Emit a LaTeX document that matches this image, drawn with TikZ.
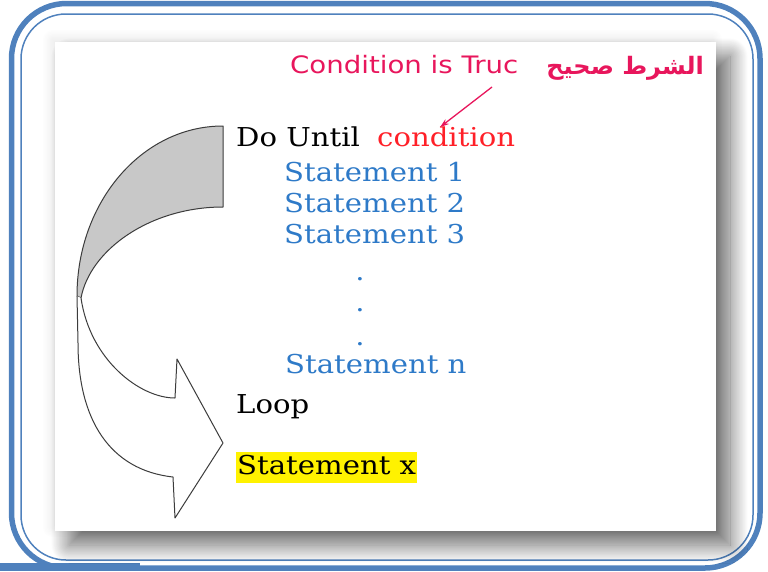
\documentclass[tikz,border=0pt]{standalone}
\usepackage{fontspec}
\usetikzlibrary{arrows.meta,shadows.blur}
\TeXXeTstate=1
\newfontfamily\codefont[FakeStretch=1.12]{DejaVu Serif}
\newfontfamily\labelfont[FakeStretch=1.15]{DejaVu Sans}
\newfontfamily\arabicfont[Script=Arabic]{DejaVu Sans}
\definecolor{framecol}{RGB}{79,129,189}
\definecolor{stmtblue}{RGB}{46,122,200}
\definecolor{truepink}{RGB}{232,22,92}
\definecolor{condred}{RGB}{255,32,40}
\definecolor{bandgray}{RGB}{200,200,200}
\definecolor{edgegray}{RGB}{60,60,60}
\tikzset{
  code/.style={anchor=base west, inner sep=0pt, font=\codefont\fontsize{26}{30}\selectfont},
  stmt/.style={code, text=stmtblue},
  dotline/.style={anchor=base, inner sep=0pt, text=stmtblue, font=\codefont\fontsize{26}{30}\selectfont},
  ribbon/.style={draw=edgegray, line width=1pt, line join=round}
}
\begin{document}
\begin{tikzpicture}[x=1pt,y=-1pt]
    \useasboundingbox (0,0) rectangle (768,571);

    % Blue double frame
    \draw[framecol, line width=5.5pt, rounded corners=55pt] (11.5,3.5) rectangle (760,568);
    \draw[framecol, line width=1.5pt, rounded corners=45pt] (21,14) rectangle (753,560);
    \fill[framecol] (0,563) rectangle (140,571);

    % White sheet with its shadow
    \fill[white, blur shadow={shadow xshift=-3pt, shadow yshift=3pt, shadow blur radius=10pt, shadow blur steps=20, shadow opacity=10}]
        (55,42) rectangle (716,531);
    \fill[white, blur shadow={shadow xshift=14pt, shadow yshift=-14pt, shadow blur radius=18pt, shadow blur steps=30, shadow opacity=60}]
        (55,42) rectangle (716,531);

    % Gray back of the curved arrow
    \filldraw[ribbon, fill=bandgray] (223,126) -- (223,207)
        .. controls (150,207) and (90,250) .. (81,298)
        -- (77,296) .. controls (77,202) and (142,126) .. (223,126) -- cycle;

    % White front of the curved arrow with its head
    \filldraw[ribbon, fill=white] (81,298)
        .. controls (90,360) and (140,398) .. (175,398)
        -- (177,359) -- (223,443) -- (175,518) -- (173,477)
        .. controls (110,470) and (78,420) .. (78,343)
        -- (77,296);

    % The loop
    \node[code] (dountil) at (236,146) {Do Until};
    \node[code, text=condred] (cond) at (377,146) {condition};
    \node[stmt] (st1) at (284,181) {Statement 1};
    \node[stmt] (st2) at (284,212) {Statement 2};
    \node[stmt] (st3) at (284,243) {Statement 3};
    \node[dotline] (d1) at (360,280) {.};
    \node[dotline] (d2) at (360,311) {.};
    \node[dotline] (d3) at (360,345) {.};
    \node[stmt] (stn) at (285,373) {Statement n};
    \node[code] (loop) at (236,413) {Loop};
    \node[code, fill=yellow, inner xsep=1pt, text height=22pt, text depth=9pt] (stx) at (236,474) {Statement x};

    % Note on the condition
    \node[anchor=base west, inner sep=0pt, text=truepink, font=\labelfont\fontsize{24}{28}\selectfont] (truelbl) at (290,73) {Condition is Truc};
    \node[anchor=base east, inner sep=0pt, text=truepink, font=\arabicfont\bfseries\fontsize{24}{28}\selectfont] (arlbl) at (704,74) {\beginR الشرط صحيح\endR};
    \coordinate (notetail) at (492,87);
    \draw[truepink, line width=1.3pt, -{Stealth[length=9pt,width=6pt]}] (notetail) -- ([xshift=-6pt,yshift=-1pt]cond.north);

\end{tikzpicture}
\end{document}
